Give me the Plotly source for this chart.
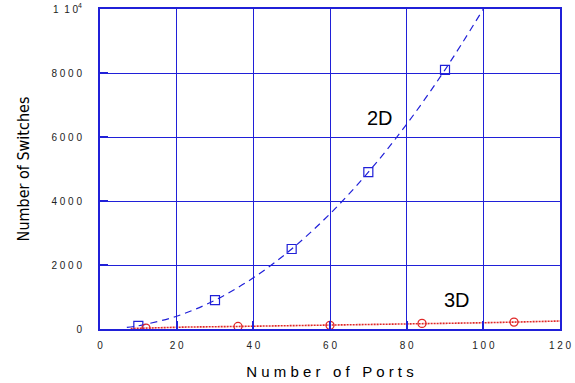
import plotly.graph_objects as go

# Measured points (markers)
ports_2d = [10, 30, 50, 70, 90]
switches_2d = [100, 900, 2500, 4900, 8100]
ports_3d = [12, 36, 60, 84, 108]
switches_3d = [30, 80, 115, 175, 215]

# Fitted curves
curve_2d_x = [7, 10, 20, 30, 40, 50, 60, 70, 80, 90, 100]
curve_2d_y = [50, 100, 400, 900, 1600, 2500, 3600, 4900, 6400, 8100, 10000]
curve_3d_x = [8, 12, 22, 36, 48, 60, 70, 78, 90, 100, 108, 118, 120]
curve_3d_y = [15, 30, 60, 80, 100, 115, 125, 160, 180, 195, 215, 240, 250]

NB = "\u00a0"
x_ticks = [0, 20, 40, 60, 80, 100, 120]
x_tick_text = [NB.join(str(v)) for v in x_ticks]
y_ticks = [0, 2000, 4000, 6000, 8000, 10000]
y_tick_text = [NB.join(str(v)) for v in y_ticks[:-1]] + [f"1{NB}{NB}1{NB}0<sup>4</sup>"]

BLUE = "#2020d8"
RED = "#e02828"
SANS = "Arial, Liberation Sans, sans-serif"

fig = go.Figure()
fig.add_trace(go.Scatter(x=curve_2d_x, y=curve_2d_y, mode="lines",
                         line=dict(color=BLUE, width=1.2, dash="7px,5px", shape="spline"),
                         hoverinfo="skip"))
fig.add_trace(go.Scatter(x=ports_2d, y=switches_2d, mode="markers",
                         marker=dict(symbol="square-open", size=9, color=BLUE,
                                     line=dict(width=1.2, color=BLUE))))
fig.add_trace(go.Scatter(x=curve_3d_x, y=curve_3d_y, mode="lines",
                         line=dict(color=RED, width=1.6, dash="2px,1px"),
                         hoverinfo="skip"))
fig.add_trace(go.Scatter(x=ports_3d, y=switches_3d, mode="markers",
                         marker=dict(symbol="circle-open", size=8, color=RED,
                                     line=dict(width=1.3, color=RED))))

fig.add_annotation(x=73.0, y=6600, text="2D", showarrow=False,
                   font=dict(family=SANS, size=20, color="black"))
fig.add_annotation(x=93.0, y=900, text="3D", showarrow=False,
                   font=dict(family=SANS, size=20, color="black"))

axis_common = dict(showgrid=True, gridcolor=BLUE, gridwidth=1,
                   showline=True, linecolor=BLUE, linewidth=2, mirror=True,
                   zeroline=False, ticks="inside", ticklen=8, tickcolor=BLUE,
                   tickwidth=2, automargin=False,
                   tickfont=dict(family=SANS, size=10, color="#222"))

fig.update_xaxes(range=[0, 120], tickvals=x_ticks, ticktext=x_tick_text,
                 ticklabelstandoff=6,
                 title=dict(text=f"N u m b e r{NB}{NB} o f{NB}{NB} P o r t s",
                            font=dict(family=SANS, size=15, color="black"),
                            standoff=16),
                 **axis_common)
fig.update_yaxes(range=[0, 10000], tickvals=y_ticks, ticktext=y_tick_text,
                 ticklabelstandoff=14,
                 title=dict(text="Number of Switches",
                            font=dict(family="DejaVu Sans Condensed, sans-serif",
                                      size=16, color="black"),
                            standoff=18),
                 **axis_common)

fig.update_layout(width=575, height=383, margin=dict(l=100, r=15, t=9, b=54),
                  plot_bgcolor="white", paper_bgcolor="white", showlegend=False)

fig.write_html("out.html")
